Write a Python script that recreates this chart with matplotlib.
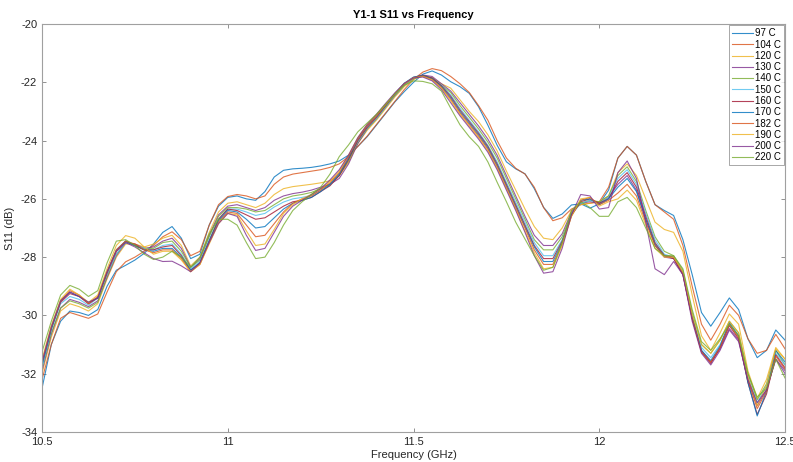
import numpy as np
import matplotlib
matplotlib.use("Agg")
import matplotlib.pyplot as plt

plt.rcParams['font.family'] = ['Liberation Sans', 'DejaVu Sans']
plt.rcParams['axes.unicode_minus'] = False

# frequency grid (GHz), 0.025 steps from 10.5 to 12.5
freq = np.round(np.arange(81) * 0.025 + 10.5, 3)

labels = ['97 C', '104 C', '120 C', '130 C', '140 C', '150 C',
          '160 C', '170 C', '182 C', '190 C', '200 C', '220 C']

s97 = [-32.5, -31.0, -30.2, -29.85, -29.9, -30.0, -29.8,
       -29.0, -28.45, -28.28, -28.1, -27.87, -27.55, -27.15, -26.95, -27.35, -28.05, -27.9, -26.9, -26.25, -25.95,
       -25.9, -26.0, -26.05, -25.75, -25.25, -25.02, -24.97, -24.95, -24.92, -24.87, -24.8, -24.7, -24.5, -24.2, -23.87, -23.47, -23.07, -22.67, -22.32, -22.0,
       -21.72, -21.61, -21.75, -21.98, -22.15, -22.38, -22.84, -23.47, -24.16, -24.73, -24.97, -25.14, -25.65, -26.29, -26.67, -26.52, -26.21, -26.17, -26.32, -26.17, -25.7,
       -24.6, -24.2, -24.5, -25.4, -26.2, -26.4, -26.57, -27.4, -28.6, -29.9, -30.37, -29.9, -29.4, -29.8, -30.8, -31.45, -31.2, -30.5, -30.85]

s104 = [-32.2, -31.0, -30.1, -29.9, -30.0, -30.1, -29.95,
        -29.2, -28.5, -28.16, -28.0, -27.8, -27.6, -27.3, -27.13, -27.4, -27.95, -27.8, -26.9, -26.2, -25.92,
        -25.85, -25.9, -26.0, -25.9, -25.5, -25.25, -25.15, -25.1, -25.05, -25.0, -24.92, -24.8, -24.55, -24.2, -23.85, -23.45, -23.05, -22.65, -22.25, -21.9,
        -21.65, -21.53, -21.6, -21.8, -22.05, -22.35, -22.8, -23.3, -24.0, -24.6, -24.95, -25.15, -25.6, -26.3, -26.75, -26.65, -26.35, -26.2, -26.15, -26.1, -25.6,
        -24.6, -24.2, -24.5, -25.4, -26.2, -26.45, -26.7, -27.6, -29.0, -30.3, -30.85, -30.3, -29.65, -30.0, -30.8, -31.3, -31.2, -30.65, -31.15]

s120 = [-32.0, -30.75, -29.85, -29.6, -29.7, -29.85, -29.6,
        -28.75, -28.0, -27.55, -27.55, -27.65, -27.55, -27.35, -27.25, -27.6, -28.3, -28.0, -27.15, -26.45, -26.15,
        -26.1, -26.2, -26.3, -26.15, -25.85, -25.65, -25.58, -25.54, -25.5, -25.45, -25.38, -25.2, -24.75,
        -24.1, -23.65, -23.3, -22.9, -22.5, -22.15, -21.9, -21.78, -21.85, -22.05,
        -22.2, -22.6, -23.0, -23.35, -23.8, -24.35, -25.05, -25.7, -26.35, -26.95, -27.35, -27.4,
        -27.0, -26.4, -26.2, -26.15, -26.1, -25.9,
        -25.1, -24.8, -25.2, -26.0, -26.8, -27.05, -27.15, -27.8, -29.3, -30.7, -31.2, -30.6, -29.95, -30.3, -31.9, -32.85, -32.2, -31.1, -31.5]

s130 = [-31.9, -30.65, -29.75, -29.45, -29.55, -29.7, -29.5,
        -28.7, -27.95, -27.5, -27.55, -27.7, -27.65, -27.45, -27.35, -27.7, -28.35, -28.05, -27.25, -26.55, -26.25,
        -26.2, -26.3, -26.4, -26.3, -26.05, -25.9, -25.82, -25.77, -25.7, -25.6, -25.5, -25.3, -24.8,
        -24.1, -23.6, -23.25, -22.85, -22.45, -22.1, -21.85, -21.75, -21.8, -22.05,
        -22.3, -22.7, -23.1, -23.5, -23.95, -24.5, -25.2, -25.9, -26.6, -27.25, -27.6, -27.6,
        -27.2, -26.45, -26.15, -26.1, -26.15, -25.95,
        -25.5, -25.2, -25.7, -26.7, -27.6, -28.0, -28.05, -28.6, -30.1, -31.2, -31.6, -31.15, -30.45, -30.85, -32.25, -33.1, -32.55, -31.5, -32.0]

s140 = [-31.8, -30.6, -29.75, -29.5, -29.6, -29.75, -29.55,
        -28.65, -27.9, -27.5, -27.6, -27.7, -27.7, -27.5, -27.45, -27.8, -28.35, -28.1, -27.3, -26.6, -26.3,
        -26.3, -26.35, -26.45, -26.4, -26.2, -26.0, -25.9, -25.85, -25.78, -25.65, -25.5, -25.2, -24.7,
        -24.05, -23.6, -23.25, -22.85, -22.45, -22.1, -21.88, -21.78, -21.85, -22.1,
        -22.35, -22.8, -23.2, -23.6, -24.05, -24.6, -25.3, -26.0, -26.7, -27.4, -27.75, -27.75,
        -27.3, -26.5, -26.15, -26.05, -26.1, -25.9,
        -25.2, -24.9, -25.4, -26.4, -27.3, -27.8, -27.95, -28.45, -29.9, -31.0, -31.3, -30.85, -30.2, -30.6, -32.0, -32.9, -32.35, -31.2, -31.7]

s150 = [-31.8, -30.5, -29.6, -29.35, -29.45, -29.65, -29.4,
        -28.6, -27.9, -27.5, -27.6, -27.7, -27.75, -27.6, -27.55, -27.9, -28.4, -28.15, -27.4, -26.7, -26.35,
        -26.35, -26.45, -26.57, -26.5, -26.28, -26.11, -26.0, -25.95, -25.88, -25.71, -25.54, -25.14, -24.62,
        -24.04, -23.58, -23.24, -22.84, -22.43, -22.09, -21.86, -21.77, -21.86, -22.1,
        -22.43, -22.89, -23.3, -23.7, -24.16, -24.73, -25.43, -26.11, -26.8, -27.5, -27.95, -27.95,
        -27.4, -26.55, -26.15, -26.05, -26.15, -25.95,
        -25.3, -25.0, -25.5, -26.5, -27.4, -27.9, -28.0, -28.5, -30.0, -31.1, -31.45, -31.0, -30.3, -30.7, -32.1, -33.0, -32.4, -31.3, -31.7]

s160 = [-31.65, -30.45, -29.55, -29.25, -29.35, -29.6, -29.4,
        -28.55, -27.8, -27.45, -27.6, -27.75, -27.75, -27.65, -27.6, -27.95, -28.45, -28.2, -27.45, -26.7, -26.35,
        -26.4, -26.55, -26.7, -26.65, -26.45, -26.25, -26.1, -26.05, -25.95, -25.75, -25.55, -25.2, -24.65,
        -24.0, -23.55, -23.2, -22.8, -22.4, -22.05, -21.83, -21.76, -21.85, -22.12,
        -22.48, -22.95, -23.35, -23.75, -24.2, -24.8, -25.5, -26.2, -26.9, -27.6, -28.05, -28.05,
        -27.45, -26.55, -26.1, -26.0, -26.15, -26.0,
        -25.4, -25.1, -25.6, -26.6, -27.5, -27.95, -28.05, -28.6, -30.1, -31.25, -31.65, -31.1, -30.35, -30.8, -32.3, -33.4, -32.7, -31.35, -31.8]

s170 = [-31.7, -30.45, -29.5, -29.2, -29.35, -29.55, -29.4,
        -28.5, -27.75, -27.45, -27.6, -27.75, -27.8, -27.7, -27.7, -28.0, -28.45, -28.2, -27.45, -26.75, -26.4,
        -26.45, -26.7, -27.0, -26.95, -26.65, -26.35, -26.15, -26.05, -25.95, -25.75, -25.5, -25.15, -24.6,
        -23.95, -23.5, -23.15, -22.78, -22.38, -22.03, -21.82, -21.76, -21.88, -22.15,
        -22.53, -23.0, -23.4, -23.8, -24.25, -24.85, -25.55, -26.25, -26.95, -27.65, -28.15, -28.15,
        -27.5, -26.55, -26.05, -26.0, -26.2, -26.0,
        -25.6, -25.3, -25.75, -26.7, -27.55, -27.95, -28.0, -28.55, -30.05, -31.2, -31.55, -31.05, -30.25, -30.7, -32.3, -33.45, -32.6, -31.2, -31.6]

s182 = [-31.6, -30.4, -29.5, -29.15, -29.3, -29.6, -29.35,
        -28.5, -27.75, -27.45, -27.55, -27.75, -27.85, -27.75, -27.75, -28.05, -28.5, -28.25, -27.5, -26.8, -26.45,
        -26.5, -26.9, -27.3, -27.25, -26.85, -26.45, -26.15, -26.0, -25.9, -25.7, -25.45, -25.1, -24.55,
        -23.95, -23.5, -23.15, -22.78, -22.4, -22.05, -21.84, -21.78, -21.9, -22.18,
        -22.58, -23.05, -23.45, -23.85, -24.3, -24.9, -25.6, -26.3, -27.0, -27.75, -28.25, -28.25,
        -27.55, -26.6, -26.05, -25.95, -26.2, -26.05,
        -25.8, -25.5, -25.9, -26.8, -27.6, -27.95, -28.0, -28.55, -30.1, -31.25, -31.6, -31.1, -30.3, -30.75, -32.2, -33.2, -32.6, -31.4, -31.85]

s190 = [-31.5, -30.35, -29.45, -29.1, -29.3, -29.55, -29.3,
        -28.4, -27.6, -27.26, -27.35, -27.65, -27.9, -27.8, -27.8, -28.1, -28.5, -28.25, -27.55, -26.85, -26.5,
        -26.55, -27.1, -27.6, -27.55, -27.05, -26.5, -26.2, -26.0, -25.85, -25.65, -25.4, -25.05, -24.5,
        -23.9, -23.45, -23.12, -22.75, -22.38, -22.05, -21.85, -21.8, -21.92, -22.2,
        -22.63, -23.1, -23.5, -23.9, -24.35, -24.95, -25.65, -26.35, -27.1, -27.85, -28.4, -28.35,
        -27.6, -26.6, -26.0, -25.95, -26.25, -26.1,
        -26.0, -25.7, -26.05, -26.9, -27.7, -28.0, -28.0, -28.5, -29.95, -31.0, -31.3, -30.85, -30.2, -30.6, -32.1, -33.1, -32.4, -31.15, -31.5]

s200 = [-31.6, -30.4, -29.5, -29.2, -29.35, -29.55, -29.4,
        -28.5, -27.8, -27.5, -27.65, -27.85, -28.05, -28.15, -28.14, -28.3, -28.5, -28.2, -27.5, -26.85, -26.5,
        -26.6, -27.25, -27.77, -27.7, -27.15, -26.6, -26.25, -26.05, -25.85, -25.65, -25.35, -25.0, -24.5,
        -23.9, -23.45, -23.1, -22.72, -22.36, -22.04, -21.85, -21.82, -21.95, -22.25,
        -22.7, -23.15, -23.55, -23.95, -24.4, -25.0, -25.7, -26.4, -27.15, -27.95, -28.55, -28.5,
        -27.7, -26.55, -25.85, -25.9, -26.35, -26.3,
        -25.1, -24.7, -25.3, -26.8, -28.4, -28.6, -28.15, -28.6, -30.2, -31.3, -31.7, -31.2, -30.5, -30.9, -32.2, -33.0, -32.55, -31.5, -31.9]

s220 = [-31.25, -30.2, -29.3, -28.97, -29.1, -29.35, -29.15,
        -28.2, -27.45, -27.4, -27.6, -27.9, -28.08, -28.0, -27.8, -28.0, -28.35, -28.0, -27.2, -26.7, -26.7,
        -26.9, -27.5, -28.05, -28.0, -27.5, -26.9, -26.4, -26.1, -25.85, -25.6, -25.15, -24.55, -24.15,
        -23.7, -23.4, -23.1, -22.75, -22.4, -22.1, -21.95, -21.97, -22.05, -22.3,
        -22.89, -23.46, -23.87, -24.2, -24.73, -25.43, -26.1, -26.8, -27.38, -27.95, -28.45, -28.35,
        -27.5, -26.4, -26.1, -26.3, -26.6, -26.6,
        -26.1, -25.95, -26.3, -27.0, -27.7, -27.95, -27.95, -28.4, -29.8, -30.9, -31.2, -30.8, -30.3, -30.7, -32.0, -32.8, -32.5, -31.5, -32.15]

series = [s97, s104, s120, s130, s140, s150, s160, s170, s182, s190, s200, s220]

# MATLAB default colour order
colors = ['#0072BD', '#D95319', '#EDB120', '#7E2F8E', '#77AC30', '#4DBEEE', '#A2142F']

fig = plt.figure(figsize=(7.93, 4.62), dpi=100)
ax = fig.add_axes([0.053, 0.065, 0.937, 0.883])

for k, (s, lab) in enumerate(zip(series, labels)):
    ax.plot(freq, s, color=colors[k % 7], lw=0.8, alpha=0.8, label=lab,
            solid_joinstyle='round')

ax.set_xlim(10.5, 12.5)
ax.set_ylim(-34, -20)
ax.set_xticks([10.5, 11, 11.5, 12, 12.5])
ax.set_xticklabels(['10.5', '11', '11.5', '12', '12.5'])
ax.set_yticks(np.arange(-34, -19, 2))

gray = '#262626'
for sp in ax.spines.values():
    sp.set_color('#a0a0a0')
    sp.set_linewidth(0.8)
ax.tick_params(direction='in', length=3, width=0.6, color='#808080',
               labelsize=8, labelcolor=gray, top=True, right=True)

ax.set_xlabel('Frequency (GHz)', fontsize=8, color=gray, labelpad=2)
ax.set_ylabel('S11 (dB)', fontsize=8, color=gray, labelpad=4)
ax.set_title('Y1-1 S11 vs Frequency', fontsize=8, fontweight='bold', pad=4)

leg = ax.legend(loc='upper right', fontsize=7, frameon=True, fancybox=False,
                handlelength=2.2, handletextpad=0.15, labelspacing=0.13,
                borderpad=0.3, borderaxespad=0.15)
leg.get_frame().set_edgecolor('#808080')
leg.get_frame().set_linewidth(0.6)

fig.savefig('out.png', dpi=100)
